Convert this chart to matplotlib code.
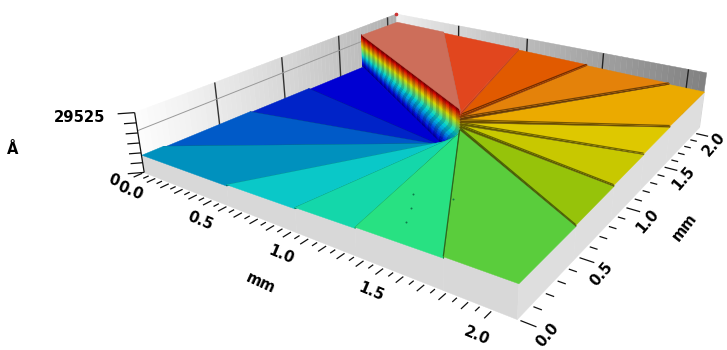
#!/usr/bin/env python3
"""Spiral staircase height map, profilometer style 3D view. Writes out.png"""
import matplotlib; matplotlib.use("Agg")
import matplotlib.pyplot as plt
import numpy as np
from mpl_toolkits.mplot3d import proj3d
from mpl_toolkits.mplot3d.art3d import Poly3DCollection

XM, YM, ZM = 2.1, 2.1, 29525

# spoke ends on the rim (mm), going round from the cliff
spoke_x = [0, 0, 0, 0, .60, 1.02, 1.35, 1.78, XM, XM, XM, XM, 1.90, 1.40, .94, .38]
spoke_y = [1.72, 1.20, .72, .13, 0, 0, 0, 0, .47, .85, 1.20, 1.55, YM, YM, YM, YM]
# where the wedges meet in the middle, the blue ones slightly off centre
apex_x = [1.18, 1.18, 1.18, 1.18, 1.18, 1.19, 1.20, 1.20, 1.20, 1.20, 1.20, 1.20, 1.20, 1.20, 1.20, 1.20]
apex_y = [.95, .95, .95, .96, .97, .99, 1.01, 1.02, 1.02, 1.02, 1.02, 1.02, 1.02, 1.02, 1.02, 1.02]
# height (angstrom) at the start and end of each wedge, and its colour
wedge_z0 = [5000, 6300, 7500, 8800, 10100, 11400, 12600, 13900,
            15200, 16500, 17700, 19000, 20300, 21500, 22800, 24100]
wedge_z1 = [5700, 7000, 8200, 9500, 10800, 12100, 13300, 14600,
            15900, 17200, 18400, 19700, 21000, 22200, 23500, 25000]
wedge_rgb = [(0, 0, 210), (0, 35, 200), (0, 90, 200), (0, 145, 190),
             (10, 200, 200), (20, 215, 170), (40, 225, 130), (90, 205, 60),
             (150, 195, 10), (200, 200, 0), (222, 200, 0), (235, 170, 0),
             (228, 130, 10), (225, 90, 0), (225, 70, 30), (205, 110, 90)]
riser_dark = [.45] * 13 + [.6, .85, .85]
# corner of the sample a wedge wraps around
corner = {3: (0, 0), 7: (XM, 0), 11: (XM, YM), 15: (0, YM)}
# small pits on the green step
pit_x = [1.45, 1.55, 1.50, 1.38]
pit_y = [.25, .42, .15, .36]

x_ticks = np.arange(0, 2.01, .05)
y_ticks = np.arange(0, 2.01, .1)
z_ticks = np.linspace(0, ZM, 7)
grid_mm = [.5, 1.0, 1.5, 2.0]
grid_z = [20800]
tick_labels = ["0.0", "0.5", "1.0", "1.5", "2.0"]
label_pos = [0, .5, 1.0, 1.5, 2.0]
xlabel_shift = [.11, .10, .09, .06, .03]
ylabel_shift = [-.02, -.06, -.06, -.07, -.08]

fig = plt.figure(figsize=(7.27, 3.5), dpi=100)
W = 558.1
ax = fig.add_axes([151.8 / 727, -56.9 / 350, W / 727, W / 350], projection="3d")
ax.computed_zorder = False
ax.set_xlim(0, XM); ax.set_ylim(0, YM); ax.set_zlim(0, ZM)
ax.view_init(23.1269, -55.9289, 0.0306)
ax.set_proj_type("persp", focal_length=0.2689)
ax.set_box_aspect((1, 0.9974, 0.1526))
ax.set_axis_off()

zo = [1]
def poly(verts, color, lw=0.3):
    c = Poly3DCollection(verts, facecolors=color, edgecolors=color, linewidths=lw)
    c.set_zorder(zo[0]); zo[0] += 1
    ax.add_collection3d(c)
    c.set_clip_on(False)
def line(xs, ys, zs, color="k", lw=1.0):
    ax.plot(xs, ys, zs, color=color, lw=lw, solid_capstyle="butt", zorder=zo[0], clip_on=False); zo[0] += 1

def rim(i):
    """rim points of wedge i with their height"""
    j = (i + 1) % 16
    pts = [(spoke_x[i], spoke_y[i])]
    if i in corner:
        pts.append(corner[i])
    pts.append((spoke_x[j], spoke_y[j]))
    d = [0] + [abs(a[0] - b[0]) + abs(a[1] - b[1]) for a, b in zip(pts[:-1], pts[1:])]
    f = np.cumsum(d) / np.sum(d)
    return [(p[0], p[1], wedge_z0[i] + q * (wedge_z1[i] - wedge_z0[i])) for p, q in zip(pts, f)]

# back walls with their gradient
n = 60
t = np.linspace(0, 1, n + 1)
g = np.linspace(252, 175, n)
poly([[(0, YM * t[i], 0), (0, YM * t[i + 1], 0), (0, YM * t[i + 1], ZM), (0, YM * t[i], ZM)] for i in range(n)],
     [(v / 255,) * 3 for v in g])
g = np.linspace(238, 130, n)
poly([[(XM * t[i], YM, 0), (XM * t[i + 1], YM, 0), (XM * t[i + 1], YM, ZM), (XM * t[i], YM, ZM)] for i in range(n)],
     [(v / 255,) * 3 for v in g])
for m in grid_mm:
    line([0, 0], [m, m], [0, ZM], "#333333", 1.0)
    line([m, m], [YM, YM], [0, ZM], "#222222", 1.0)
for z in grid_z:
    line([0, 0], [0, YM], [z, z], "#999999", 0.7)

# curtains along the two front edges
for i in range(16):
    r = rim(i)
    for a, b in zip(r[:-1], r[1:]):
        if a[1] == 0 and b[1] == 0:
            poly([[(a[0], 0, 0), (b[0], 0, 0), (b[0], 0, b[2]), (a[0], 0, a[2])]], "#d8d8d8")
        if a[0] == XM and b[0] == XM:
            poly([[(XM, a[1], 0), (XM, b[1], 0), (XM, b[1], b[2]), (XM, a[1], a[2])]], "#dedede")

# rainbow cliff between the last and first wedge, its inner end follows the apexes
wedge_zm = [(a + b) / 2 for a, b in zip(wedge_z0, wedge_z1)]
nx, nz = 36, 24
sz = np.linspace(wedge_z0[0], wedge_z1[-1], nz + 1)
ex = np.interp(sz, wedge_zm, apex_x)
ey = np.interp(sz, wedge_zm, apex_y)
def cliff_pt(u, m):
    return (spoke_x[0] + u * (ex[m] - spoke_x[0]), spoke_y[0] + u * (ey[m] - spoke_y[0]), sz[m])
cv, cc = [], []
for i in range(nx):
    k = 0.70 if i % 2 else 0.86
    for m in range(nz):
        cv.append([cliff_pt(i / nx, m), cliff_pt((i + 1) / nx, m),
                   cliff_pt((i + 1) / nx, m + 1), cliff_pt(i / nx, m + 1)])
        r, gg, b, _ = plt.cm.jet((m + .5) / nz)
        cc.append((r * k, gg * k, b * k))
poly(cv, cc, lw=0.5)

# wedges, low to high, with the dark riser in front of each
for i in range(16):
    rgb = np.array(wedge_rgb[i]) / 255
    if i > 0:
        zl, zh = wedge_z1[i - 1], wedge_z0[i]
        poly([[(spoke_x[i], spoke_y[i], zl), (spoke_x[i], spoke_y[i], zh),
               (apex_x[i], apex_y[i], wedge_zm[i]), (apex_x[i - 1], apex_y[i - 1], wedge_zm[i - 1])]],
             tuple(rgb * riser_dark[i]))
    poly([[(apex_x[i], apex_y[i], wedge_zm[i])] + rim(i)], tuple(rgb))
    if 6 < i < 14:
        line([spoke_x[i], apex_x[i]], [spoke_y[i], apex_y[i]], [wedge_z0[i], wedge_zm[i]], tuple(rgb * .5), 0.9)

ax.plot(pit_x, pit_y, [wedge_z0[6]] * len(pit_x), "o", color="#0c7a4a", ms=1.4, mew=0, zorder=zo[0], clip_on=False)
# spike at the back corner
ax.plot([0], [YM], [ZM + 200], "o", color="#cc3333", ms=1.6, zorder=zo[0], clip_on=False)

# ticks
for v in x_ticks:
    L = .05 if round(v * 20) % 2 == 0 else .032
    line([v, v], [-.012, -.012 - L], [0, 0], "#111111", 0.9)
for v in y_ticks:
    L = .065 if round(v * 10) % 5 == 0 else .035
    line([XM + .015, XM + .015 + L], [v, v], [0, 0], "#111111", 0.9)
for k, v in enumerate(z_ticks):
    L = .055 if k in (0, 6) else .04
    line([0, -L], [0, -L], [v, v], "#111111", 0.9)
line([0, 0], [0, 0], [0, ZM], "#111111", 0.9)

# labels sit in the figure at their projected place, rotated along their axis
M = ax.get_proj()
def to_px(x, y):
    xs, ys, _ = proj3d.proj_transform(x, y, 0, M)
    return ax.transData.transform((xs, ys))
txt = dict(fontweight="bold", fontsize=10.6, ha="center", va="center", color="k")
def label3d(x, y, s, along):
    p = to_px(x, y)
    q = to_px(x + .1, y) if along == "x" else to_px(x, y + .1)
    ang = np.degrees(np.arctan2(q[1] - p[1], q[0] - p[0]))
    fig.text(p[0] / 727, p[1] / 350, s, rotation=ang, **txt)
for s, v, sx, sy in zip(tick_labels, label_pos, xlabel_shift, ylabel_shift):
    label3d(v + sx, -.165, s, "x")
    label3d(XM + .135, v + sy, s, "y")
label3d(1.17, -.36, "mm", "x")
label3d(XM + .29, .98, "mm", "y")
fig.text(80 / 727, 1 - 117 / 350, "29525", **txt)
fig.text(13 / 727, 1 - 150 / 350, "Å", **txt)
fig.text(114 / 727, 1 - 181 / 350, "0", rotation=-20, **txt)

fig.savefig("out.png", dpi=100)
